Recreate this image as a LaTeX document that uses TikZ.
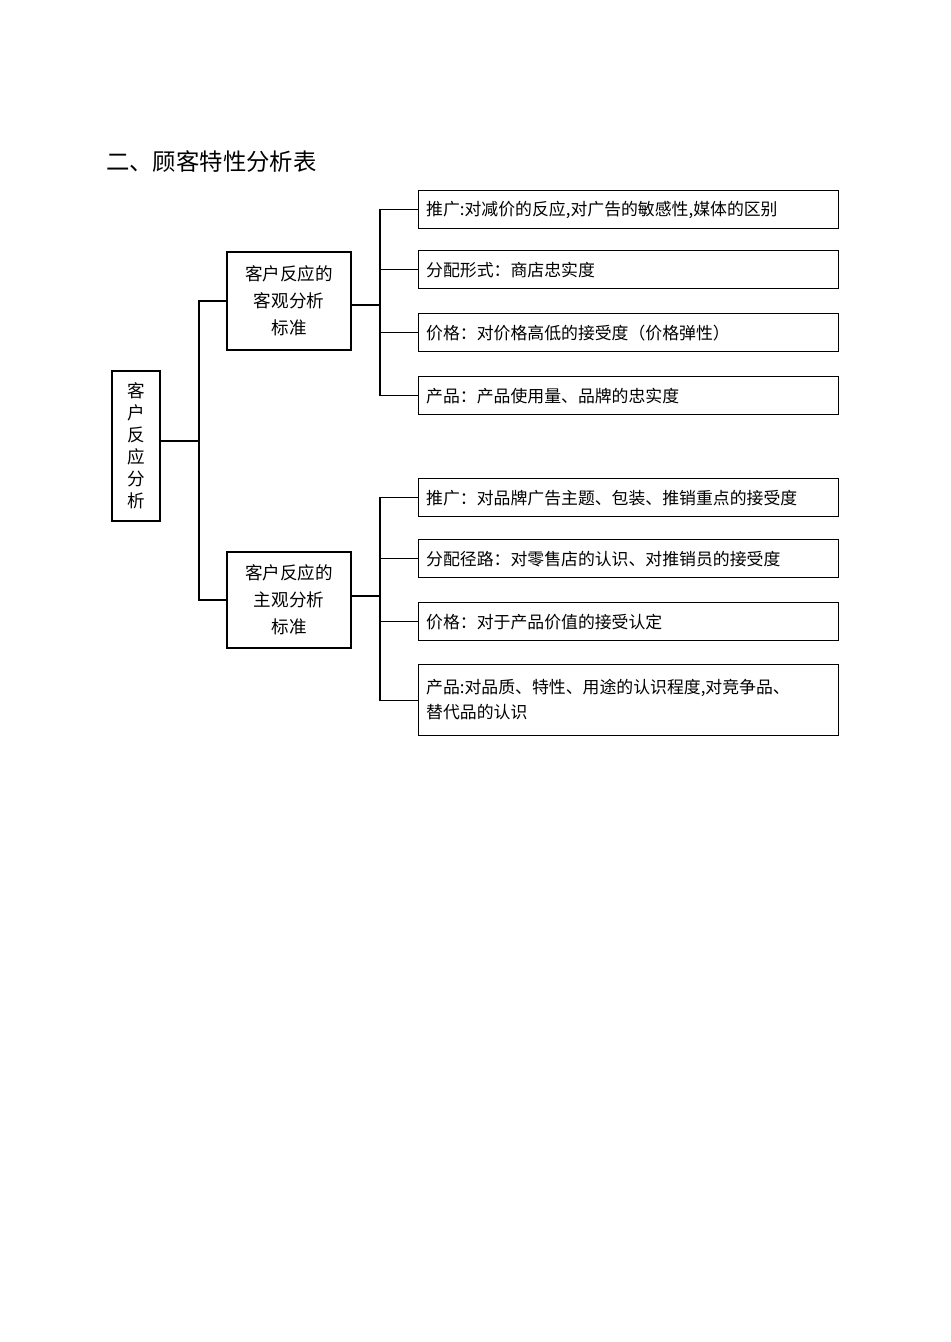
\documentclass[tikz,border=0pt]{standalone}
\usepackage{fontspec}
\setmainfont{Noto Sans CJK SC}
\usetikzlibrary{positioning}
\tikzset{
  box/.style={draw, thick, inner sep=0pt, align=center},
  leaf/.style={draw, thick, minimum width=8.4cm, minimum height=0.76cm, anchor=north west,
    text width=8.1cm, align=left, font=\fontsize{9.6pt}{14pt}\selectfont},
  link/.style={thick}
}
\begin{document}
\begin{tikzpicture}[x=0.02cm, y=-0.02cm]
	\useasboundingbox (0,0) rectangle (950,1342);
	
	% Title
	\node[anchor=west, font=\fontsize{13.3pt}{16pt}\selectfont] (title) at (100,162) {二、顾客特性分析表};
	
	% Root and middle boxes
	\node[box, minimum width=0.96cm, minimum height=3cm, font=\fontsize{10pt}{12.5pt}\selectfont] (root) at (136,446) {客\\户\\反\\应\\分\\析};
	\node[box, minimum width=2.48cm, minimum height=1.96cm, font=\fontsize{10pt}{15.5pt}\selectfont] (obj) at (289,301) {客户反应的\\客观分析\\标准};
	\node[box, minimum width=2.48cm, minimum height=1.92cm, font=\fontsize{10pt}{15.5pt}\selectfont] (sub) at (289,600) {客户反应的\\主观分析\\标准};
	
	% Leaves
	\node[leaf] (o1) at (418,190) {推广:对减价的反应,对广告的敏感性,媒体的区别};
	\node[leaf] (o2) at (418,250) {分配形式：商店忠实度};
	\node[leaf] (o3) at (418,313) {价格：对价格高低的接受度（价格弹性）};
	\node[leaf] (o4) at (418,376) {产品：产品使用量、品牌的忠实度};
	\node[leaf] (s1) at (418,478) {推广：对品牌广告主题、包装、推销重点的接受度};
	\node[leaf] (s2) at (418,539) {分配径路：对零售店的认识、对推销员的接受度};
	\node[leaf] (s3) at (418,602) {价格：对于产品价值的接受认定};
	\node[leaf, minimum height=1.42cm, text depth=0.55cm] (s4) at (418,664) {产品:对品质、特性、用途的认识程度,对竞争品、\\替代品的认识};
	
	% Connectors
	\coordinate (rj) at (199,441);
	\draw[link] (root.east |- rj) -- (rj);
	\draw[link] (obj.west) -| (rj) |- (sub.west);
	
	\coordinate (oj) at (380,305);
	\draw[link] (obj.east |- oj) -- (oj);
	\foreach \n in {o1, o2, o3, o4} {
		\draw[link] (oj) |- (\n.west);
	}
	
	\coordinate (sj) at (380,596);
	\draw[link] (sub.east |- sj) -- (sj);
	\foreach \n in {s1, s2, s3, s4} {
		\draw[link] (sj) |- (\n.west);
	}
\end{tikzpicture}
\end{document}
